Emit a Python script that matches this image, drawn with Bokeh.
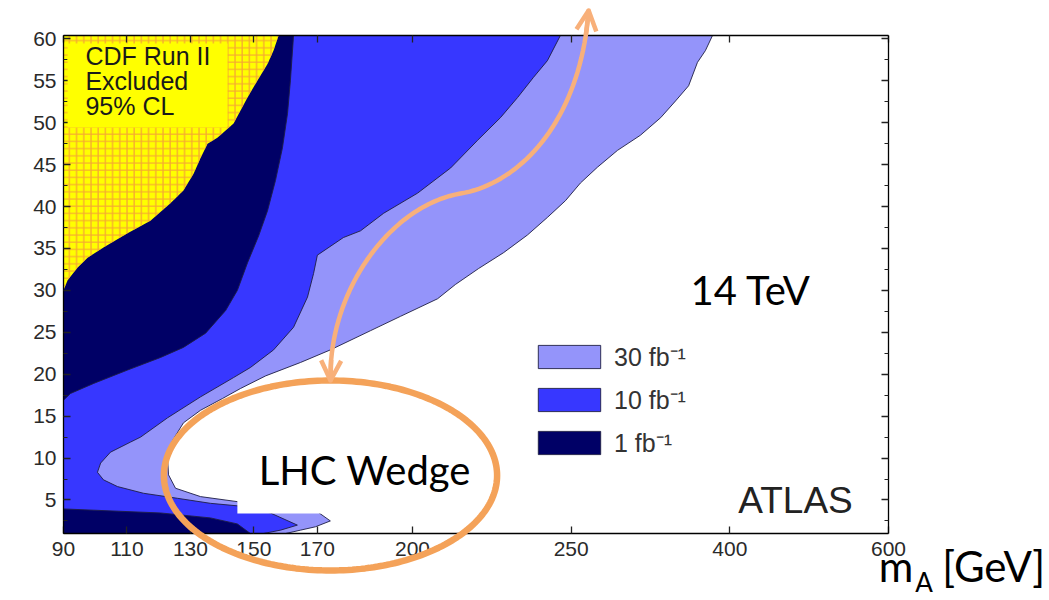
import numpy as np
from bokeh.plotting import figure
from bokeh.models import (Range1d, FixedTicker, LinearAxis, Label, Legend, LegendItem,
                          PolyAnnotation, Arrow, OpenHead, BoxAnnotation, ColumnDataSource)
from bokeh.embed import file_html
from bokeh.resources import INLINE

# ---------------- data ----------------
mA_tick_values = [90, 110, 130, 150, 170, 200, 250, 400, 600]
tanb_tick_values = [5, 10, 15, 20, 25, 30, 35, 40, 45, 50, 55, 60]
tanb_minor_values = [2.5, 7.5, 12.5, 17.5, 22.5, 27.5, 32.5, 37.5, 42.5, 47.5, 52.5, 57.5]

TB_MIN, TB_MAX = 1.0, 60.4      # tan(beta) range of the plot box
MA_MIN, MA_MAX = 90, 600        # m_A range of the plot box

# CDF Run II excluded region (upper-left), boundary m_A [GeV], tan(beta)
cdf_mA = [157.8, 156.2, 154.3, 151.1, 148.0, 143.6, 138.5, 135.4, 133.2, 131.0,
          127.8, 123.7, 117.4, 110.2, 102.6, 97.6, 94.4, 91.3, 90.0]
cdf_tanb = [60.4, 58.6, 57.0, 55.0, 53.0, 49.9, 48.2, 47.5, 45.8, 43.9,
            41.9, 40.4, 38.3, 36.8, 35.1, 33.9, 32.7, 31.2, 30.0]

# 1 fb-1 discovery contour: upper region and lower band
lumi1_hi_mA = [162.5, 161.5, 160.6, 159.0, 156.8, 154.3, 151.5, 148.0, 144.8, 141.1,
               134.8, 127.8, 120.6, 110.2, 99.5, 92.2, 90.0]
lumi1_hi_tanb = [60.4, 55.0, 51.1, 47.0, 43.1, 39.5, 36.5, 33.3, 30.0, 27.6,
                 24.9, 23.2, 22.0, 20.5, 18.9, 17.7, 16.9]
lumi1_lo_mA = [90.0, 120.6, 136.3, 144.8, 148.9]
lumi1_lo_tanb = [3.93, 3.45, 2.86, 2.14, 1.0]

# 10 fb-1 contour
lumi10_mA = [246.6, 242.5, 238.1, 233.1, 227.7, 220.5, 212.0, 201.6, 190.9, 183.6,
             178.2, 170.0, 168.8, 166.9, 162.5, 156.2, 148.9, 143.6, 133.2, 122.8,
             114.3, 111.1, 104.8, 101.7, 100.7, 102.6, 107.0, 115.2, 125.9, 136.3,
             144.8, 155.2, 163.7, 158.4, 153.0]
lumi10_tanb = [60.4, 57.4, 55.4, 53.0, 50.6, 47.9, 44.6, 41.6, 39.2, 37.1,
               36.3, 34.2, 32.0, 29.2, 25.6, 22.9, 20.8, 19.6, 17.3, 14.8,
               12.5, 11.9, 10.7, 9.4, 8.3, 7.4, 6.6, 5.8, 5.2, 4.6,
               4.3, 3.45, 2.0, 1.4, 1.0]

# 30 fb-1 contour
lumi30_mA = [383.6, 376.9, 369.4, 361.0, 348.7, 334.6, 315.4, 293.8, 274.9, 258.7,
             248.2, 242.5, 236.2, 228.7, 220.8, 213.5, 207.9,
             196.2, 186.8, 174.1, 164.7, 153.7, 145.8, 140.1, 133.2, 127.8,
             124.4, 122.8, 123.1, 125.3, 133.2, 144.8, 158.4, 170.0, 174.1, 169.4,
             164.7, 160.0]
lumi30_tanb = [60.4, 58.6, 57.2, 54.4, 52.6, 50.6, 48.5, 46.7, 44.7, 42.8,
               40.7, 38.7, 36.6, 34.5, 32.6, 30.7, 29.0,
               26.9, 25.2, 22.9, 21.4, 19.8, 18.3, 17.1, 15.7, 14.2,
               12.1, 10.0, 8.0, 6.4, 5.4, 4.8, 4.05, 3.6, 2.5, 1.8,
               1.4, 1.0]

legend_labels = ["30 fb\u207b\u00b9", "10 fb\u207b\u00b9", "1 fb\u207b\u00b9"]


# ---------------- axis mapping (broken m_A axis: linear to 250, compressed above) ----------------
def axis_u(m):
    m = np.asarray(m, dtype=float)
    return np.where(m <= 250, m, np.where(m <= 400, 250 + (m - 250) / 3.0, 300 + (m - 400) / 4.0))


U_MIN, U_MAX = float(axis_u(MA_MIN)), float(axis_u(MA_MAX))

# canvas / plot-box geometry (pixels)
W, H = 1049, 600
BOX_L, BOX_R, BOX_T, BOX_B = 63, 888, 35, 533
sx = (BOX_R - BOX_L) / (U_MAX - U_MIN)
sy = (BOX_B - BOX_T) / (TB_MAX - TB_MIN)
x_start = U_MIN - BOX_L / sx
x_end = x_start + W / sx
y_end = TB_MAX + BOX_T / sy
y_start = y_end - H / sy


def poly_top_bottom(bm, bt):
    xs = [MA_MIN, bm[0]] + list(bm) + [bm[-1], MA_MIN]
    ys = [TB_MAX, TB_MAX] + list(bt) + [TB_MIN, TB_MIN]
    return xs, ys


def poly_top_left(bm, bt):
    xs = [MA_MIN, bm[0]] + list(bm) + [MA_MIN]
    ys = [TB_MAX, TB_MAX] + list(bt) + [bt[-1]]
    return xs, ys


def poly_left_bottom(bm, bt):
    xs = [MA_MIN] + list(bm) + [bm[-1], MA_MIN]
    ys = [bt[0]] + list(bt) + [TB_MIN, TB_MIN]
    return xs, ys


LIGHT = "#9494FA"
MED = "#3737FF"
NAVY = "#000066"
EDGE = "#1e1e44"

p = figure(width=W, height=H,
           x_range=Range1d(x_start, x_end), y_range=Range1d(y_start, y_end),
           x_axis_type=None, y_axis_type=None,
           output_backend="svg", toolbar_location=None,
           min_border_left=0, min_border_right=0, min_border_top=0, min_border_bottom=0)
p.background_fill_color = "white"
p.border_fill_color = "white"
p.outline_line_color = None


def add_region(xs, ys, **kw):
    src = ColumnDataSource(dict(x=axis_u(xs), y=ys))
    return p.patch("x", "y", source=src, **kw)


x30, y30 = poly_top_bottom(lumi30_mA, lumi30_tanb)
r30 = add_region(x30, y30, fill_color=LIGHT, line_color=EDGE, line_width=0.9)
x10, y10 = poly_top_bottom(lumi10_mA, lumi10_tanb)
r10 = add_region(x10, y10, fill_color=MED, line_color=EDGE, line_width=0.9)
x1, y1 = poly_top_left(lumi1_hi_mA, lumi1_hi_tanb)
r1 = add_region(x1, y1, fill_color=NAVY, line_color=EDGE, line_width=0.9)
x1b, y1b = poly_left_bottom(lumi1_lo_mA, lumi1_lo_tanb)
add_region(x1b, y1b, fill_color=NAVY, line_color=EDGE, line_width=0.9)
xc, yc = poly_top_left(cdf_mA, cdf_tanb)
add_region(xc, yc, fill_color="#FFFF00", line_color=None,
           hatch_pattern="+", hatch_color="#F39A3A", hatch_scale=7.2, hatch_weight=1.3, hatch_alpha=0.85)

# ---------------- axes (drawn on the plot box edges) ----------------
u_ticks = [float(v) for v in axis_u(mA_tick_values)]
tick_font = "Liberation Sans"


def style_axis(ax):
    ax.axis_line_color = "black"
    ax.axis_line_width = 1.3
    ax.major_tick_in = 7
    ax.major_tick_out = 0
    ax.minor_tick_in = 4
    ax.minor_tick_out = 0
    ax.major_tick_line_color = "#222222"
    ax.minor_tick_line_color = "#222222"
    ax.major_tick_line_width = 1.3
    ax.major_label_text_font = tick_font
    ax.major_label_text_color = "#2a2a2a"


xb = LinearAxis(fixed_location=TB_MIN, bounds=(U_MIN, U_MAX),
                ticker=FixedTicker(ticks=u_ticks, minor_ticks=[]),
                major_label_overrides={u: str(m) for u, m in zip(u_ticks, mA_tick_values)})
style_axis(xb)
xb.major_label_text_font_size = "21px"
xb.major_label_standoff = 8
p.add_layout(xb, "below")

xt = LinearAxis(fixed_location=TB_MAX, bounds=(U_MIN, U_MAX),
                ticker=FixedTicker(ticks=u_ticks, minor_ticks=[]),
                major_label_overrides={u: "" for u in u_ticks})
style_axis(xt)
p.add_layout(xt, "above")

yl = LinearAxis(fixed_location=U_MIN, bounds=(TB_MIN, TB_MAX),
                ticker=FixedTicker(ticks=tanb_tick_values, minor_ticks=tanb_minor_values))
style_axis(yl)
yl.major_label_text_font_size = "21px"
yl.major_label_standoff = 7
p.add_layout(yl, "left")

yr = LinearAxis(fixed_location=U_MAX, bounds=(TB_MIN, TB_MAX),
                ticker=FixedTicker(ticks=tanb_tick_values, minor_ticks=tanb_minor_values),
                major_label_overrides={v: "" for v in tanb_tick_values})
style_axis(yr)
p.add_layout(yr, "right")

# ---------------- legend ----------------
legend = Legend(items=[LegendItem(label=legend_labels[0], renderers=[r30]),
                       LegendItem(label=legend_labels[1], renderers=[r10]),
                       LegendItem(label=legend_labels[2], renderers=[r1])],
                location=(530, H - 459), glyph_width=78, glyph_height=29, spacing=9,
                padding=0, margin=0, label_standoff=6,
                label_text_font="Liberation Sans", label_text_font_size="25px",
                label_text_color="#333333", border_line_alpha=0, background_fill_alpha=0)
p.add_layout(legend)

# ---------------- annotations ----------------
# white text box behind "LHC Wedge" and yellow box behind the CDF text
p.add_layout(BoxAnnotation(left=144.8, right=224.6, top=11.5, bottom=3.39,
                           fill_color="white", fill_alpha=1.0, line_alpha=0))
p.add_layout(BoxAnnotation(left=91.3, right=141.7, top=59.45, bottom=49.43,
                           fill_color="#FFFF00", fill_alpha=1.0, line_alpha=0))

for txt, yy in zip(["CDF Run II", "Excluded", "95% CL"], [56.34, 53.36, 50.38]):
    p.add_layout(Label(x=96.9, y=yy, text=txt, text_font="Liberation Sans",
                       text_font_size="25px", text_color="#1a1a1a"))

p.add_layout(Label(x=320.7, y=2.55, text="ATLAS", text_align="center",
                   text_font="Liberation Sans", text_font_size="37px", text_color="#222222"))

p.add_layout(Label(x=287.6, y=27.24, text="14 TeV", text_font="Lato",
                   text_font_size="40px", text_color="black"))

# orange ellipse around the wedge
ORANGE = "#F4A259"
ARROW_C = "#F8B07A"
th = np.linspace(0, 2 * np.pi, 241)
ell_u, ell_t, ell_a, ell_b = 174.15, 7.92, 52.5, 11.33
p.add_layout(PolyAnnotation(xs=list(ell_u + ell_a * np.cos(th)), ys=list(ell_t + ell_b * np.sin(th)),
                            line_color=ORANGE, line_width=6.5, line_alpha=1.0, fill_alpha=0))

p.add_layout(Label(x=151.5, y=5.77, text="LHC Wedge", text_font="Lato",
                   text_font_size="40px", text_color="black"))


# double-headed curved arrow (two cubic Bezier pieces)
def bez(p0, p1, p2, p3, n=40):
    s = np.linspace(0, 1, n)[:, None]
    P = [np.array(v, dtype=float) for v in (p0, p1, p2, p3)]
    return ((1 - s) ** 3) * P[0] + 3 * ((1 - s) ** 2) * s * P[1] + 3 * (1 - s) * s ** 2 * P[2] + s ** 3 * P[3]


segA = bez((174.15, 19.25), (173.5, 29.98), (193.1, 40.12), (215.1, 41.55))
segB = bez((215.1, 41.55), (234.0, 42.75), (252.9, 50.26), (255.5, 63.38))
path = np.vstack([segA, segB[1:]])
pu = list(path[:, 0]) + list(path[::-1, 0])
pt = list(path[:, 1]) + list(path[::-1, 1])
p.add_layout(PolyAnnotation(xs=pu, ys=pt, line_color=ARROW_C, line_width=4.5, line_alpha=1.0,
                            line_join="round", fill_alpha=0))
p.add_layout(Arrow(x_start=path[3, 0], y_start=path[3, 1], x_end=path[0, 0], y_end=path[0, 1],
                   line_color=ARROW_C, line_width=4.5, start=None,
                   end=OpenHead(size=20, line_width=4.5, line_color=ARROW_C)))
p.add_layout(Arrow(x_start=path[-4, 0], y_start=path[-4, 1], x_end=path[-1, 0], y_end=path[-1, 1],
                   line_color=ARROW_C, line_width=4.5, start=None,
                   end=OpenHead(size=20, line_width=4.5, line_color=ARROW_C)))

# axis title at the lower right: m_A [GeV]
p.add_layout(Label(x=346.9, y=-5.80, text="m", text_font="Lato", text_font_size="42px", text_color="black"))
p.add_layout(Label(x=358.4, y=-6.75, text="A", text_font="Lato", text_font_size="26px", text_color="black"))
p.add_layout(Label(x=366.9, y=-5.80, text="[GeV]", text_font="Lato", text_font_size="42px", text_color="black"))

open("out.html", "w").write(file_html(p, INLINE))
